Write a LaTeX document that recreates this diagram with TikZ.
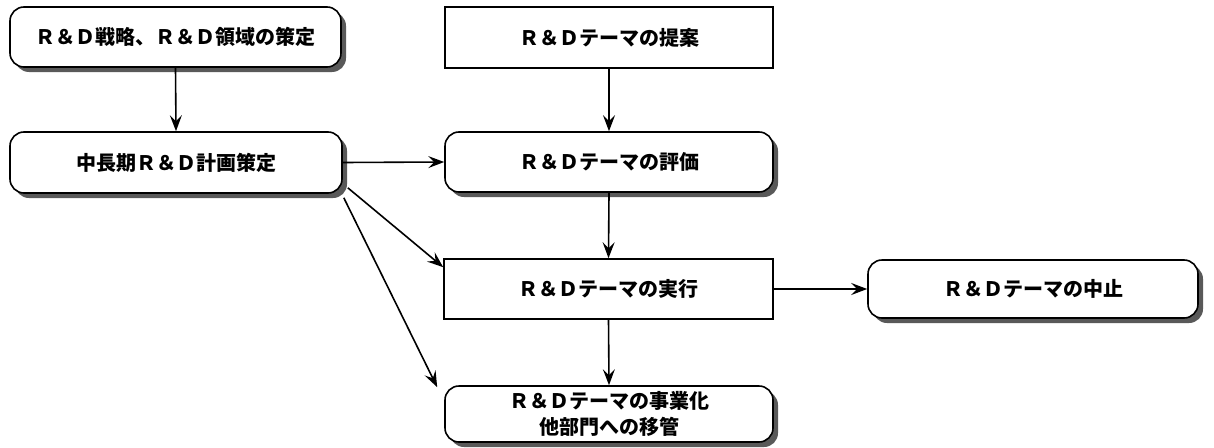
\documentclass[tikz,border=0pt]{standalone}
\usepackage{fontspec}
\newfontfamily\jp{Noto Sans CJK JP}
\usetikzlibrary{arrows.meta,shadows}
\tikzset{
  base/.style={draw=black, line width=1.6pt, fill=white, inner sep=0pt,
    font=\jp\bfseries\fontsize{20}{26}\selectfont, align=center},
  roundbox/.style={base, rounded corners=14pt,
    drop shadow={shadow xshift=5pt, shadow yshift=-5pt, fill=black!65, opacity=1}},
  plainbox/.style={base},
  arr/.style={draw=black, line width=1.6pt, -{Stealth[length=16pt,width=12pt,inset=6pt]}}
}
\begin{document}
\begin{tikzpicture}[x=1pt,y=-1pt]
\useasboundingbox (0,0) rectangle (1214,447);
\node[roundbox, minimum width=331pt, minimum height=60pt] (strat) at (175.5,37) {Ｒ＆Ｄ戦略、Ｒ＆Ｄ領域の策定};
\node[plainbox, minimum width=328pt, minimum height=61pt] (prop) at (609,37.5) {Ｒ＆Ｄテーマの提案};
\node[roundbox, minimum width=332pt, minimum height=61pt] (plan) at (176,162.5) {中長期Ｒ＆Ｄ計画策定};
\node[roundbox, minimum width=328pt, minimum height=60pt] (eval) at (609,162) {Ｒ＆Ｄテーマの評価};
\node[plainbox, minimum width=329pt, minimum height=60pt] (exec) at (608.5,289) {Ｒ＆Ｄテーマの実行};
\node[roundbox, minimum width=330pt, minimum height=58pt] (stop) at (1033,289) {Ｒ＆Ｄテーマの中止};
\node[roundbox, minimum width=328pt, minimum height=56pt] (biz) at (609,414) {Ｒ＆Ｄテーマの事業化\\他部門への移管};

\draw[arr] (strat.south) -- (plan.north);
\draw[arr] (prop.south) -- (eval.north);
\draw[arr] (plan.east) -- (eval.west);
\draw[arr] (eval.south) -- (exec.north);
\draw[arr] ([xshift=5pt,yshift=6pt]plan.south east) -- ([yshift=-9pt]exec.north west);
\draw[arr] ([xshift=1pt,yshift=-4pt]plan.south east) -- ([xshift=-7pt,yshift=-2pt]biz.north west);
\draw[arr] (exec.south) -- (biz.north);
\draw[arr] (exec.east) -- (stop.west);
\end{tikzpicture}
\end{document}
